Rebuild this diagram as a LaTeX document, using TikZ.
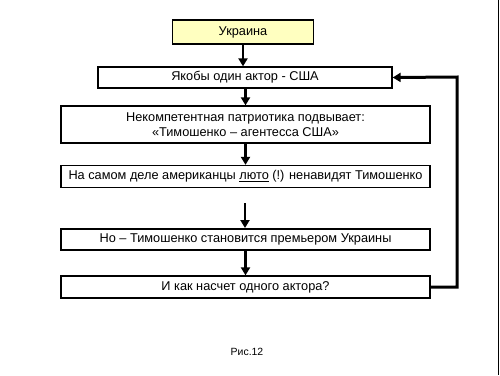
\documentclass[tikz,border=0pt]{standalone}
\usepackage{fontspec}
\setmainfont{Liberation Sans}
\usetikzlibrary{arrows.meta}
\begin{document}
\begin{tikzpicture}[x=1bp,y=-1bp,
  box/.style={draw=black,line width=1.3bp,fill=white,inner sep=0pt,font=\fontsize{12.8}{15}\selectfont,align=center},
  arr/.style={line width=2.4bp,-{Triangle[length=8bp,width=9bp]}},
  loopline/.style={line width=3bp,-{Triangle[length=8bp,width=9bp]}}]
\useasboundingbox (0,0) rectangle (500,375);
\fill[white] (0,0) rectangle (500,375);
\draw[line width=1.5bp] (498.5,0) -- (498.5,375);
\node[box,fill={rgb,255:red,255;green,255;blue,192},minimum width=141bp,minimum height=24bp] (ua) at (243,32) {Украина};
\node[box,minimum width=294bp,minimum height=21bp] (b1) at (245,77.5) {Якобы один актор - США};
\node[box,minimum width=369bp,minimum height=37bp] (b2) at (245.5,124.5) {Некомпетентная патриотика подвывает:\\«Тимошенко – агентесса США»};
\node[box,minimum width=369bp,minimum height=22bp] (b3) at (245.5,176.5) {На самом деле американцы \underline{люто} (!) ненавидят Тимошенко};
\node[box,minimum width=369bp,minimum height=21bp] (b4) at (245.5,239.5) {Но – Тимошенко становится премьером Украины};
\node[box,minimum width=369bp,minimum height=22bp] (b5) at (245.5,287) {И как насчет одного актора?};
\node[font=\fontsize{10.5}{12}\selectfont] (cap) at (247,352) {Рис.12};
\coordinate (gapTop) at (245,203);
\coordinate (gapBot) at (245,228);
\coordinate (r1) at (457,287);
\coordinate (r2) at (457,77);
\draw[arr] (ua.south) -- (ua.south |- b1.north);
\draw[arr] (b1.south -| b2.north) -- (b2.north);
\draw[arr] (b2.south) -- (b3.north);
\draw[arr] (gapTop) -- (gapBot);
\draw[arr] (b4.south) -- (b5.north);
\draw[loopline] (b5.east) -- (r1) -- (r2) -- (b1.east);
\end{tikzpicture}
\end{document}
